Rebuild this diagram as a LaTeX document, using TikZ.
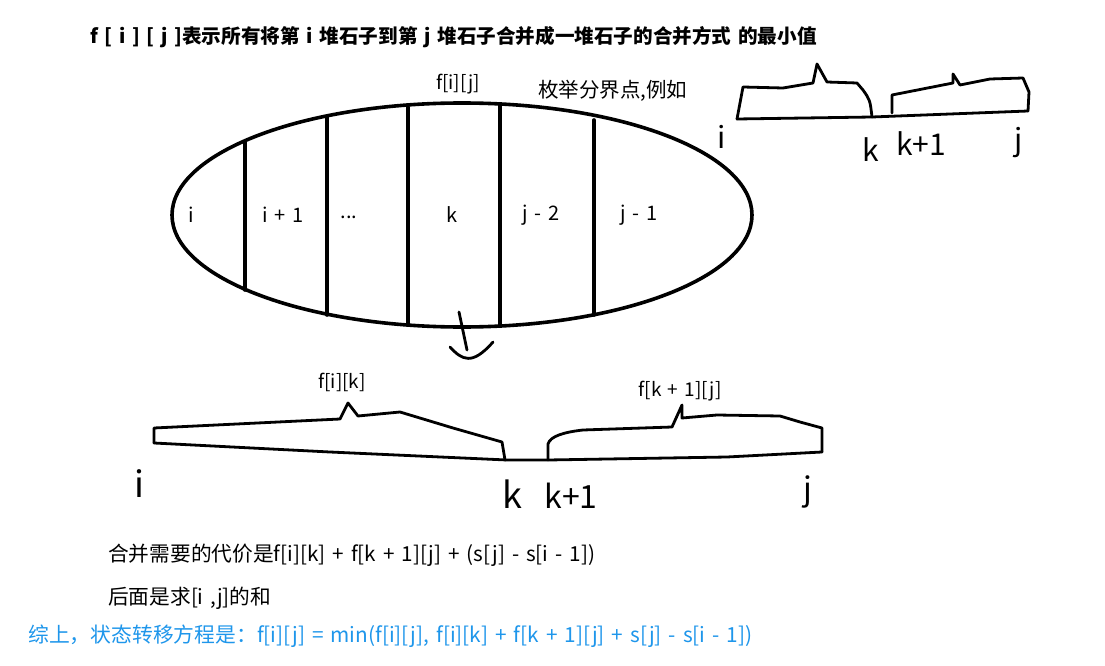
\documentclass[tikz,border=0pt]{standalone}
\usepackage{fontspec}
\setmainfont[WordSpace=1.5]{Noto Sans CJK SC}
\usetikzlibrary{shapes.geometric}
\definecolor{noteblue}{RGB}{30,150,235}
\tikzset{
  ink/.style={line width=2.8pt, line join=round, line cap=round},
  thick ink/.style={line width=3.6pt, line join=round, line cap=round},
  txt/.style={inner sep=0pt, font=\fontsize{20.7}{24}\selectfont},
  lbl/.style={inner sep=0pt, font=\fontsize{20}{23}\selectfont},
  hand/.style={inner sep=0pt, font=\fontsize{30}{34}\selectfont},
}
\begin{document}
\begin{tikzpicture}[x=1pt,y=-1pt]
\useasboundingbox (0,0) rectangle (1105,666);
\fill[white] (0,0) rectangle (1105,666);

% title
\node[inner sep=0pt, anchor=west, font=\fontsize{19.6}{23}\selectfont\bfseries] (title) at (90,37)
  {f [ i ] [ j ]表示所有将第 i 堆石子到第 j 堆石子合并成一堆石子的合并方式 的最小值};

% ellipse
\draw[thick ink] (462,215) ellipse (290 and 112);
\coordinate (l1t) at (245,142); \coordinate (l1b) at (245,290);
\coordinate (l2t) at (327,117); \coordinate (l2b) at (327,315);
\coordinate (l3t) at (408,107); \coordinate (l3b) at (408,324);
\coordinate (l4t) at (500,104); \coordinate (l4b) at (500,326);
\coordinate (l5t) at (594,120); \coordinate (l5b) at (594,315);
\draw[thick ink] (l1t) -- (l1b);
\draw[thick ink] (l2t) -- (l2b);
\draw[thick ink] (l3t) -- (l3b);
\draw[thick ink] (l4t) -- (l4b);
\draw[thick ink] (l5t) -- (l5b);

\node[lbl] (ci) at (191,215) {i};
\node[lbl] (ci1) at (283,215) {i + 1};
\node[lbl] (cdots) at (349,217) {...};
\node[lbl] (ck) at (452,215) {k};
\node[lbl] (cj2) at (541,215) {j - 2};
\node[lbl] (cj1) at (639,215) {j - 1};

\node[lbl, font=\fontsize{19}{22}\selectfont] (fij) at (458,84) {f[i][j]};
\node[lbl, anchor=west, font=\fontsize{20.5}{23}\selectfont] (enum) at (538,91) {枚举分界点,例如};

% down squiggle arrow
\draw[ink] (459,312) -- (467,350);
\draw[ink] (450,347) .. controls (462,360) and (472,366) .. (493,342);

% upper-right brackets
\draw[ink] (737,119) -- (872,117) -- (1028,111);
\draw[ink] (737,119) -- (743,87) -- (783,88) -- (813,83) -- (817,64) -- (827,82) -- (857,83) -- (863,90) .. controls (870,100) .. (872,117);
\draw[ink] (892,113) -- (892,95) -- (953,83) -- (953,74) -- (960,85) -- (990,79) -- (1023,78) -- (1029,92) -- (1028,111);

\node[hand] (ui) at (722,137) {i};
\node[hand] (uk) at (871,150) {k};
\node[hand] (uk1) at (921,144) {k+1};
\node[hand] (uj) at (1019,143) {j};

% lower brackets
\draw[ink] (154,443) -- (330,452) -- (507,460) -- (548,460) -- (727,457) -- (822,452);
\draw[ink] (154,443) -- (154,428) -- (340,419) -- (348,403) -- (358,416) -- (400,412) -- (453,428) -- (502,442) -- (505,460);
\draw[ink] (548,460) -- (548,444) .. controls (550,436) and (565,432) .. (583,430) -- (672,427) -- (682,405) -- (682,418) -- (717,415) -- (780,416) -- (800,422) -- (822,428) -- (822,452);

\node[lbl, font=\fontsize{19}{22}\selectfont] (fik) at (342,382) {f[i][k]};
\node[lbl, font=\fontsize{19}{22}\selectfont] (fk1j) at (680,391) {f[k + 1][j]};

\node[hand, font=\fontsize{36}{40}\selectfont] (li) at (139,484) {i};
\node[hand, font=\fontsize{36}{40}\selectfont] (lk) at (512,494) {k};
\node[hand, font=\fontsize{32}{36}\selectfont] (lk1) at (571,496) {k+1};
\node[hand, font=\fontsize{32}{36}\selectfont] (lj) at (808,492) {j};

% text lines
\node[txt, anchor=west] (cost) at (108,555) {合并需要的代价是f[i][k] + f[k + 1][j] + (s[j] - s[i - 1])};
\node[txt, anchor=west] (sum) at (108,598) {后面是求[i ,j]的和};
\node[txt, anchor=west, text=noteblue, font=\fontsize{20.8}{24}\selectfont] (eq) at (28,636)
  {综上，状态转移方程是：f[i][j] = min(f[i][j], f[i][k] + f[k + 1][j] + s[j] - s[i - 1])};
\end{tikzpicture}
\end{document}
